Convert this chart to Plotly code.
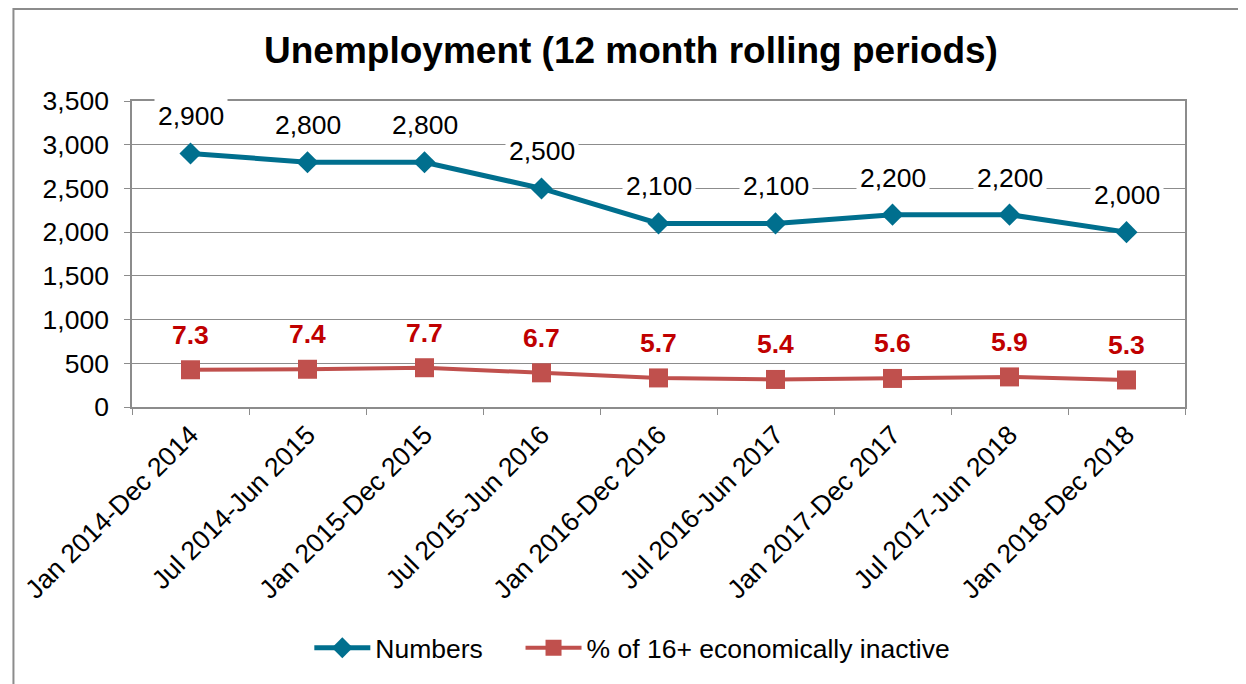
import plotly.graph_objects as go

categories = ["Jan 2014-Dec 2014", "Jul 2014-Jun 2015", "Jan 2015-Dec 2015",
              "Jul 2015-Jun 2016", "Jan 2016-Dec 2016", "Jul 2016-Jun 2017",
              "Jan 2017-Dec 2017", "Jul 2017-Jun 2018", "Jan 2018-Dec 2018"]
numbers = [2900, 2800, 2800, 2500, 2100, 2100, 2200, 2200, 2000]
pct_inactive = [7.3, 7.4, 7.7, 6.7, 5.7, 5.4, 5.6, 5.9, 5.3]
y_ticks = [0, 500, 1000, 1500, 2000, 2500, 3000, 3500]

FONT = "Liberation Sans, Arial, sans-serif"
TEAL = "#006F8E"
RED = "#C0504D"
GRID = "#8C8C8C"
FS = 26.5

# page is offset by the 8px body margin; compensate in margins
L, T, PW, PH = 120, 93, 1057, 306
W, H = 1246, 684

fig = go.Figure()
fig.add_trace(go.Scatter(
    x=categories, y=numbers, name="Numbers", mode="lines+markers",
    line=dict(color=TEAL, width=5),
    marker=dict(symbol="diamond", size=17, color=TEAL),
    legend="legend",
))
fig.add_trace(go.Scatter(
    x=categories, y=pct_inactive, name="% of 16+ economically inactive",
    mode="lines+markers", yaxis="y2",
    line=dict(color=RED, width=4),
    marker=dict(symbol="square", size=19, color=RED),
    legend="legend2",
))

annotations = []
for c, v in zip(categories, numbers):
    annotations.append(dict(
        x=c, y=v, xref="x", yref="y", text=f"{v:,}", showarrow=False,
        yshift=37, bgcolor="white", borderpad=3,
        font=dict(family=FONT, size=FS, color="black"),
    ))
for c, v in zip(categories, pct_inactive):
    annotations.append(dict(
        x=c, y=v, xref="x", yref="y2", text=f"<b>{v:.1f}</b>", showarrow=False,
        yshift=35,
        font=dict(family=FONT, size=FS, color="#C00000"),
    ))

leg_common = dict(orientation="h", xanchor="left", y=-0.7876, yanchor="middle",
                  font=dict(family=FONT, size=FS, color="black"),
                  itemwidth=56, bgcolor="rgba(0,0,0,0)")

fig.update_layout(
    width=W, height=H,
    margin=dict(l=L, r=W - L - PW, t=T, b=H - T - PH),
    paper_bgcolor="white", plot_bgcolor="white",
    font=dict(family=FONT, size=FS, color="black"),
    title=dict(text="<b>Unemployment (12 month rolling periods)</b>",
               x=0.5, xref="container", xanchor="center",
               y=1 - 42 / H, yanchor="middle",
               font=dict(family=FONT, size=37, color="black")),
    showlegend=True,
    legend=dict(x=(298 - L) / PW, **leg_common),
    legend2=dict(x=(510 - L) / PW, **leg_common),
    xaxis=dict(
        type="category", range=[-0.5, len(categories) - 0.5],
        showgrid=False, showline=True, linecolor=GRID, linewidth=1.5, mirror=True,
        ticks="outside", tickson="boundaries", ticklen=6, tickcolor=GRID,
        tickangle=-45, tickfont=dict(family=FONT, size=FS, color="black"),
    ),
    yaxis=dict(
        range=[0, 3500], tickvals=y_ticks, tickformat=",",
        showgrid=True, gridcolor=GRID, gridwidth=1,
        showline=True, linecolor=GRID, linewidth=1.5, mirror=True,
        ticks="outside", ticklen=6, tickcolor=GRID, zeroline=False,
        ticklabelstandoff=10,
        tickfont=dict(family=FONT, size=FS, color="black"),
    ),
    yaxis2=dict(range=[0, 60], overlaying="y", side="right", visible=False,
                showgrid=False, zeroline=False),
    annotations=annotations,
    shapes=[dict(type="rect", xref="paper", yref="paper",
                 x0=(1 - L) / PW, x1=1.3, y0=-1.5, y1=1 + (T - 1) / PH,
                 line=dict(color="#8C8C8C", width=2), layer="below")],
)

fig.write_html("out.html")
